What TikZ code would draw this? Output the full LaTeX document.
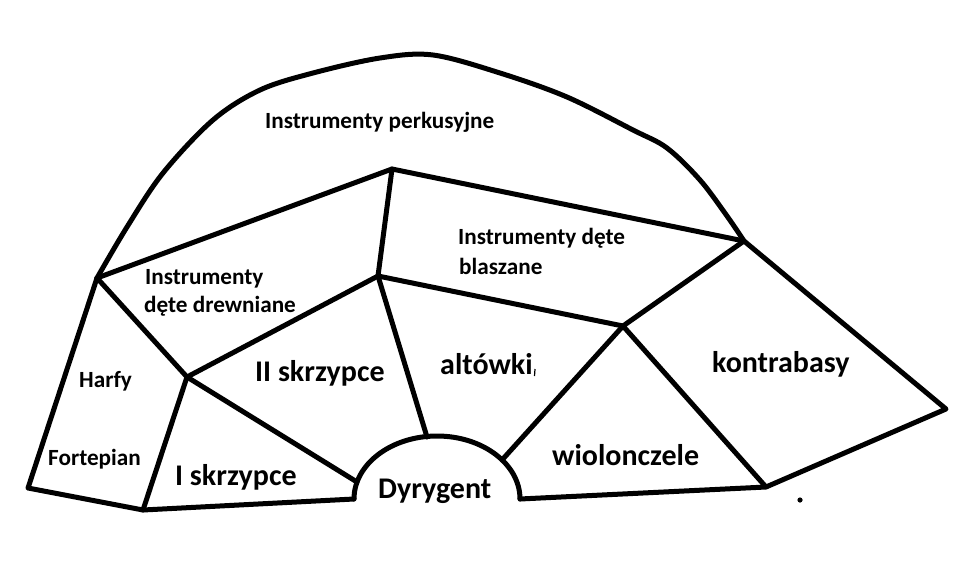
\documentclass[tikz,border=0pt]{standalone}
\usepackage{fontspec}
\setmainfont{Carlito}
\begin{document}
\begin{tikzpicture}[x=1pt,y=-1pt,
  wall/.style={line width=5pt,line cap=round,line join=round},
  small/.style={font=\fontsize{23.2}{27}\selectfont\bfseries,inner sep=0pt,anchor=base west},
  big/.style={font=\fontsize{30}{34}\selectfont\bfseries,inner sep=0pt,anchor=base west}]
\useasboundingbox (0,0) rectangle (959,576);
% corner points
\coordinate (A) at (97,278);
\coordinate (B) at (392,169);
\coordinate (C) at (744,241);
\coordinate (D) at (378,276);
\coordinate (E) at (623,326);
\coordinate (F) at (946,409);
\coordinate (G) at (766,487);
\coordinate (J) at (187,377);
\coordinate (L) at (143,510);
\coordinate (M) at (28,488);
\coordinate (P) at (354,499);
\coordinate (T) at (437,436);
\coordinate (Q) at (520,499);
\coordinate (K) at (357,482);
\coordinate (R) at (427,437);
\coordinate (S) at (502,460);
% outer arc (percussion)
\draw[wall] plot[smooth,tension=0.55] coordinates {(97,278) (127,227) (163,173) (213,120) (260,90) (313,73) (380,58) (433,55) (500,73) (567,97) (633,130) (667,148) (700,180) (727,216) (744,241)};
% winds
\draw[wall] (A) -- (B) -- (C);
\draw[wall] (B) -- (D) -- (E) -- (C);
% double basses
\draw[wall] (C) -- (F) -- (G) -- (E);
% left block
\draw[wall] (A) -- (J) -- (D);
\draw[wall] (A) -- (M) -- (L) -- (P);
\draw[wall] (J) -- (L);
\draw[wall] (J) -- (K);
\draw[wall] (D) -- (R);
\draw[wall] (E) -- (S);
\draw[wall] (Q) -- (G);
% conductor
\draw[wall] (P) .. controls (354,464.2) and (391.2,436) .. (T) .. controls (482.8,436) and (520,464.2) .. (Q);
% dot and tick
\fill (800,500) circle (2.6);
\draw[line width=1.2pt] (535,369) -- (534.5,376);
% labels
\node[small] (perk) at (265,128) {Instrumenty perkusyjne};
\node[small] (bl1) at (458,244) {Instrumenty dęte};
\node[small] (bl2) at (459,274) {blaszane};
\node[small] (dr1) at (145,284) {Instrumenty};
\node[small] (dr2) at (144,312) {dęte drewniane};
\node[small] (harf) at (79,387) {Harfy};
\node[small] (fort) at (48,465) {Fortepian};
\node[big] (s2) at (255,381) {II skrzypce};
\node[big] (s1) at (175,485) {I skrzypce};
\node[big] (alt) at (440,374) {altówki};
\node[big] (wio) at (552,465) {wiolonczele};
\node[big] (dyr) at (378,498) {Dyrygent};
\node[big] (kb) at (712,372) {kontrabasy};
\end{tikzpicture}
\end{document}
